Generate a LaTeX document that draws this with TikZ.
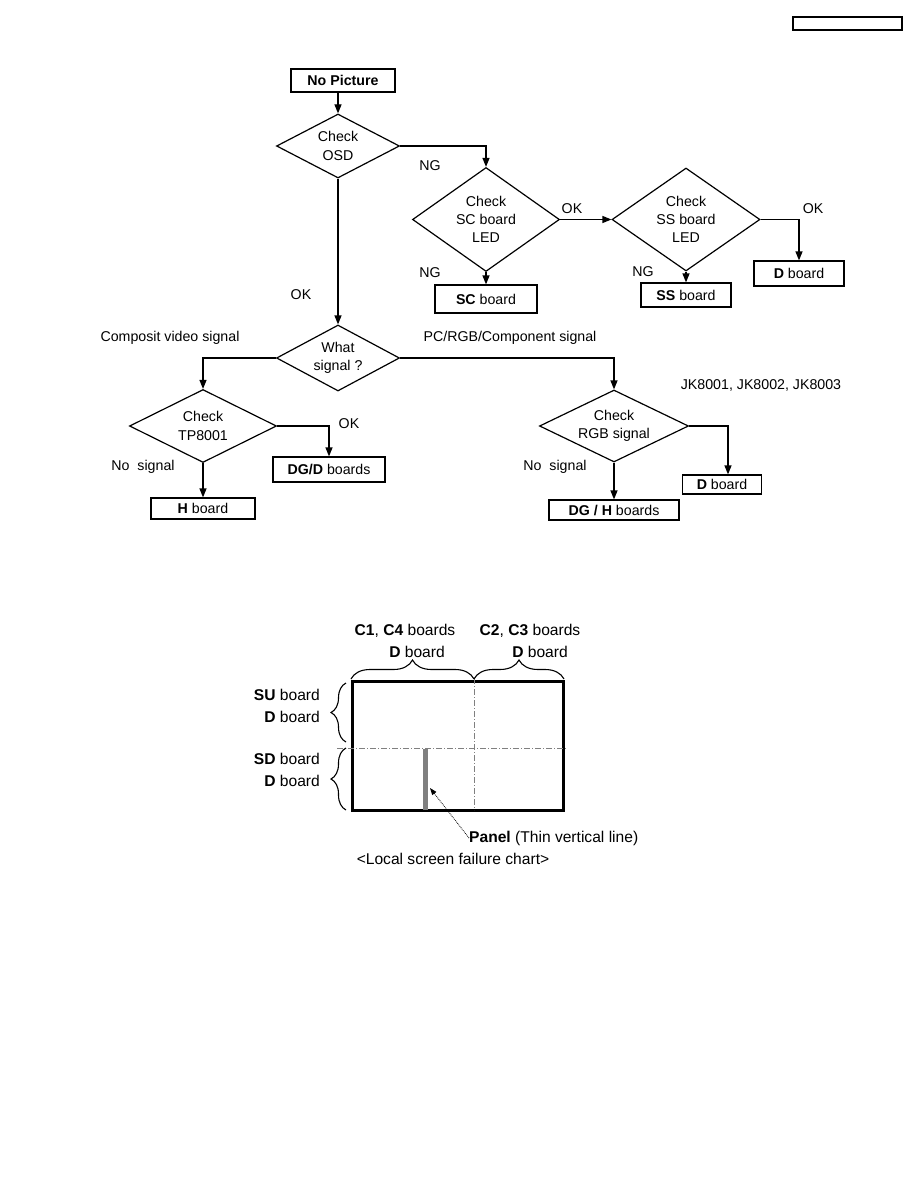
\documentclass[tikz,border=0pt]{standalone}
\usepackage{fontspec}
\setmainfont{Liberation Sans}
\usetikzlibrary{shapes.geometric,arrows.meta,decorations.pathreplacing}
\newcommand\ftop{\fontsize{14.2}{18.3}\selectfont}
\newcommand\fbot{\fontsize{15.6}{20}\selectfont}
\begin{document}
\begin{tikzpicture}[x=1pt,y=-1pt,
  dec/.style={diamond, draw, line width=1.2pt, inner sep=0pt, align=center, font=\ftop},
  box/.style={draw, line width=1.2pt, inner sep=0pt, font=\ftop},
  arr/.style={-{Triangle[length=9pt,width=7pt]}, line width=1.2pt},
  lbl/.style={inner sep=0pt, font=\ftop},
  blbl/.style={inner sep=0pt, font=\fbot},
  brc/.style={decorate, line width=1.1pt},
  dd/.style={gray, line width=0.9pt, dash pattern=on 6pt off 2pt on 1pt off 2pt}]
\useasboundingbox (0,0) rectangle (918,1188);

% header box
\node[draw, line width=1.2pt, minimum width=109pt, minimum height=13pt, inner sep=0pt] (hdr) at (847.5,23.5) {};

% flowchart nodes
\node[box, minimum width=104pt, minimum height=23pt] (np) at (343,80.5) {\textbf{No Picture}};
\node[dec, aspect=1.92, minimum width=123pt, minimum height=64pt] (osd) at (338,146) {Check\\OSD};
\node[dec, aspect=1.41, minimum width=147pt, minimum height=104pt] (sc) at (486,219.5) {Check\\SC board\\LED};
\node[dec, aspect=1.44, minimum width=148pt, minimum height=103pt] (ss) at (686,219.5) {Check\\SS board\\LED};
\node[box, minimum width=102pt, minimum height=28pt] (scb) at (486,299) {\textbf{SC} board};
\node[box, minimum width=90pt, minimum height=24pt] (ssb) at (686,295) {\textbf{SS} board};
\node[box, minimum width=90pt, minimum height=25pt] (d1) at (799,273.5) {\textbf{D} board};
\node[dec, aspect=1.86, minimum width=123pt, minimum height=66pt] (what) at (338,358) {What\\signal ?};
\node[dec, aspect=2.01, minimum width=147pt, minimum height=73pt] (tp) at (203,426) {Check\\TP8001};
\node[dec, aspect=2.07, minimum width=149pt, minimum height=72pt] (rgb) at (614,426) {Check\\RGB signal};
\node[box, minimum width=112pt, minimum height=25pt] (dgd) at (329,469.5) {\textbf{DG/D} boards};
\node[box, minimum width=104pt, minimum height=21pt] (hb) at (203,508.5) {\textbf{H} board};
\node[box, minimum width=79pt, minimum height=19pt] (dr) at (722,484.5) {\textbf{D} board};
\node[box, minimum width=130pt, minimum height=20pt] (dgh) at (614,510) {\textbf{DG / H} boards};

% connectors
\draw[arr] (np.south -| osd.north) -- (osd.north);
\draw[arr] (osd.east) -| (sc.north);
\draw[arr] (sc.east) -- (ss.west);
\draw[arr] (ss.east) -| (d1.north);
\draw[arr] (sc.south) -- (scb.north);
\draw[arr] (ss.south) -- (ssb.north);
\draw[arr] (osd.south) -- (what.north);
\draw[arr] (what.west) -| (tp.north);
\draw[arr] (what.east) -| (rgb.north);
\draw[arr] (tp.east) -| (dgd.north);
\draw[arr] (tp.south) -- (hb.north);
\draw[arr] (rgb.east) -| ([xshift=6pt]dr.north);
\draw[arr] (rgb.south) -- (dgh.north);

% labels
\node[lbl] (l1) at (430,166) {NG};
\node[lbl] (l2) at (572,209) {OK};
\node[lbl] (l3) at (813,209) {OK};
\node[lbl] (l4) at (430,273) {NG};
\node[lbl] (l5) at (643,272) {NG};
\node[lbl] (l6) at (301,295) {OK};
\node[lbl] (l7) at (170,338) {Composit video signal};
\node[lbl] (l8) at (510,338) {PC/RGB/Component signal};
\node[lbl] (l9) at (761,385) {JK8001, JK8002, JK8003};
\node[lbl] (l10) at (349,424) {OK};
\node[lbl] (l11) at (143,467) {No\ \ signal};
\node[lbl] (l12) at (555,467) {No\ \ signal};

% local screen failure chart
\node[draw, line width=3pt, minimum width=211pt, minimum height=129pt, inner sep=0pt] (scr) at (457.5,745.5) {};
\draw[dd] (474,678) -- (474,810);
\draw[dd] (337,748) -- (566,748);
\draw[line width=5pt, gray] (425,749) -- (425,809.5);
\draw[brc, decoration={brace, amplitude=19pt}] (351,679) -- (474,679);
\draw[brc, decoration={brace, amplitude=19pt}] (474,679) -- (564,679);
\draw[brc, decoration={brace, amplitude=15pt}] (346,742) -- (346,683);
\draw[brc, decoration={brace, amplitude=15pt}] (346,810) -- (346,748);

\node[blbl] (c14) at (405,631) {\textbf{C1}, \textbf{C4} boards};
\node[blbl] (c14d) at (417,652) {\textbf{D} board};
\node[blbl] (c23) at (530,631) {\textbf{C2}, \textbf{C3} boards};
\node[blbl] (c23d) at (540,652) {\textbf{D} board};
\node[blbl, anchor=east] (su) at (320,695) {\textbf{SU} board};
\node[blbl, anchor=east] (sud) at (320,717) {\textbf{D} board};
\node[blbl, anchor=east] (sd) at (320,759) {\textbf{SD} board};
\node[blbl, anchor=east] (sdd) at (320,781) {\textbf{D} board};
\node[blbl, anchor=west] (panel) at (469,838) {\textbf{Panel} (Thin vertical line)};
\node[blbl] (cap) at (453,859) {<Local screen failure chart>};
\coordinate (ptip) at (430,788);
\draw[densely dotted, line width=0.8pt, -{Triangle[length=7pt,width=5pt]}] (panel.west) -- (ptip);
\end{tikzpicture}
\end{document}
